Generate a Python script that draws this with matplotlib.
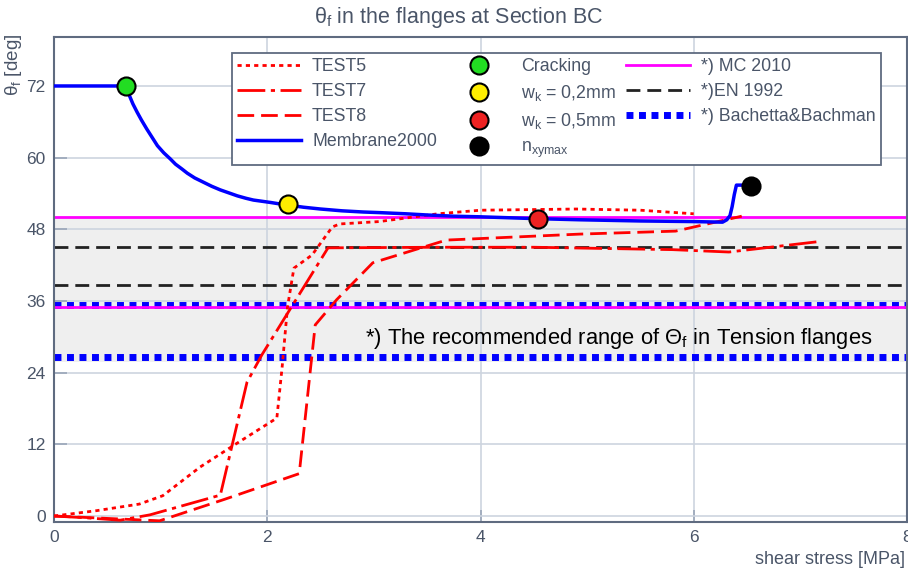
import numpy as np
import matplotlib
matplotlib.use("Agg")
import matplotlib.pyplot as plt
from matplotlib.lines import Line2D

plt.rcParams['font.family'] = ['Liberation Sans', 'DejaVu Sans']
plt.rcParams['mathtext.fontset'] = 'custom'
plt.rcParams['mathtext.rm'] = 'Liberation Sans'
plt.rcParams['mathtext.it'] = 'Liberation Sans:italic'
plt.rcParams['lines.scale_dashes'] = False

# --- data ---
test5_x = [0, 0.4, 0.8, 1.02, 1.37, 1.7, 2.09, 2.14, 2.19, 2.25, 2.42, 2.61, 2.68, 3.05, 3.6, 4.0, 4.9, 5.5, 6.0]
test5_y = [0, 0.9, 2.0, 3.4, 8.2, 12.0, 16.4, 25.0, 35.0, 41.5, 43.7, 48.4, 48.9, 49.3, 50.6, 51.2, 51.4, 51.2, 50.6]

test7_x = [0, 0.3, 0.62, 0.9, 1.56, 1.81, 1.95, 2.57, 3.6, 4.5, 5.8, 6.33, 7.15]
test7_y = [0, -0.3, -0.7, 0.2, 3.5, 22.4, 27.0, 44.9, 45.0, 45.0, 44.6, 44.2, 45.9]

test8_x = [0, 0.5, 0.99, 1.6, 2.3, 2.45, 2.65, 2.99, 3.46, 3.68, 4.93, 5.83, 6.45]
test8_y = [0, -0.4, -0.8, 2.8, 7.1, 32.0, 36.2, 42.4, 45.0, 46.2, 47.2, 47.7, 50.2]

mem_x = [0, 0.675, 0.70, 0.74, 0.78, 0.82, 0.87, 0.92, 0.97, 1.03, 1.09, 1.14, 1.2, 1.25, 1.32, 1.4, 1.48,
         1.56, 1.64, 1.72, 1.8, 1.87, 1.95, 2.03, 2.1, 2.18, 2.34, 2.5, 2.7, 2.9, 3.05, 3.3, 3.5, 3.75,
         3.99, 4.5, 4.93, 5.5, 5.99, 6.27, 6.31, 6.34, 6.36, 6.38, 6.4, 6.45]
mem_y = [72, 72, 70.7, 69.0, 67.6, 66.3, 64.8, 63.4, 62.0, 60.8, 59.8, 58.9, 58.1, 57.4, 56.6, 55.9, 55.2,
         54.6, 54.1, 53.6, 53.2, 52.9, 52.7, 52.5, 52.3, 52.1, 51.7, 51.4, 51.1, 50.9, 50.8, 50.6, 50.4, 50.2,
         50.1, 49.8, 49.6, 49.4, 49.3, 49.2, 49.6, 50.3, 51.8, 53.8, 55.4, 55.4]

mark_x = [0.675, 2.19, 4.54, 6.54]
mark_y = [72.0, 52.3, 49.7, 55.3]
mark_colors = ['#22dd22', '#ffee00', '#ee2222', 'black']
mark_labels = ['Cracking', 'w$_\\mathrm{k}$ = 0,2mm', 'w$_\\mathrm{k}$ = 0,5mm', 'n$_\\mathrm{xymax}$']

mc2010 = [50.0, 35.0]
en1992 = [45.0, 38.66]
bachetta = [35.3, 26.6]
band = [25.8, 50.0]

xticks = [0, 2, 4, 6, 8]
yticks = [0, 12, 24, 36, 48, 60, 72]

txt_col = '#4a5568'
grid_col = '#cdd4df'

fig = plt.figure(figsize=(9.08, 5.70), dpi=100)
ax = fig.add_axes([54 / 908, 48 / 570, 853 / 908, 485 / 570])

ax.axhspan(band[0], band[1], color='#efefef', zorder=0.2, lw=0)

for v in bachetta:
    ax.axhline(v, color='#0000ff', lw=5, dashes=(5, 4), zorder=2)
for v in mc2010:
    ax.axhline(v, color='#ff00ff', lw=2, zorder=2.5)
for v in en1992:
    ax.axhline(v, color='#222222', lw=2, dashes=(10, 5), zorder=2)

ax.plot(test5_x, test5_y, color='red', lw=2, dashes=(3, 3), zorder=3)
ax.plot(test7_x, test7_y, color='red', lw=2, dashes=(20, 4, 3, 4), zorder=3)
ax.plot(test8_x, test8_y, color='red', lw=2, dashes=(12, 5), zorder=3)
ax.plot(mem_x, mem_y, color='#0000ff', lw=2.5, zorder=4)

for x, y, c in zip(mark_x, mark_y, mark_colors):
    ax.plot(x, y, 'o', ms=13, mfc=c, mec='black', mew=1.5, zorder=5)

ax.text((365 - 54) / 853, 29.8, '*) The recommended range of \u0398$_\\mathrm{f}$ in Tension flanges',
        transform=ax.get_yaxis_transform(), fontsize=15.8, color='black', va='center', ha='left', zorder=6)

ax.set_xlim(0, 8)
ax.set_ylim(-1, 80.2)
ax.set_xticks(xticks)
ax.set_yticks(yticks)
ax.grid(True, color=grid_col, lw=1.2)
ax.set_axisbelow(True)
ax.tick_params(direction='in', length=9, width=1.2, color='#9aa5b8', labelsize=12.5,
               labelcolor=txt_col, pad=6)
for s in ax.spines.values():
    s.set_color('#5f6b80')
    s.set_linewidth(1.5)

fig.text(459 / 908, 1 - 18 / 570, '\u03b8$_\\mathrm{f}$ in the flanges at Section BC', fontsize=15.5,
         color=txt_col, ha='center', va='center')
fig.text(14 / 908, 1 - 34 / 570, '\u03b8$_\\mathrm{f}$ [deg]', fontsize=13.5, color=txt_col,
         rotation=90, ha='center', va='top')
fig.text(905 / 908, 1 - 560 / 570, 'shear stress [MPa]', fontsize=13, color=txt_col,
         ha='right', va='center')

handles = [
    Line2D([], [], color='red', lw=2, dashes=(3, 3)),
    Line2D([], [], color='red', lw=2, dashes=(20, 4, 3, 4)),
    Line2D([], [], color='red', lw=2, dashes=(12, 5)),
    Line2D([], [], color='#0000ff', lw=2.5),
]
labels = ['TEST5', 'TEST7', 'TEST8', 'Membrane2000']
for c, l in zip(mark_colors, mark_labels):
    handles.append(Line2D([], [], ls='none', marker='o', ms=13, mfc=c, mec='black', mew=1.5))
    labels.append(l)
handles += [
    Line2D([], [], color='#ff00ff', lw=2),
    Line2D([], [], color='#222222', lw=2, dashes=(10, 5)),
    Line2D([], [], color='#0000ff', lw=5, dashes=(5, 4)),
]
labels += ['*) MC 2010', '*)EN 1992', '*) Bachetta&Bachman']

leg = ax.legend(handles, labels, ncol=3, loc='upper left',
                bbox_to_anchor=((232 - 54) / 853, (522 - 53) / 485),
                fontsize=12.8, frameon=True, fancybox=False, framealpha=1,
                edgecolor='#5f6b80', handlelength=3.6, handletextpad=0.6,
                columnspacing=0.55, labelspacing=0.44, borderpad=0.3, borderaxespad=0)
leg.get_frame().set_linewidth(1.3)
for t in leg.get_texts():
    t.set_color(txt_col)
leg.set_zorder(10)

fig.savefig('out.png', dpi=100)
